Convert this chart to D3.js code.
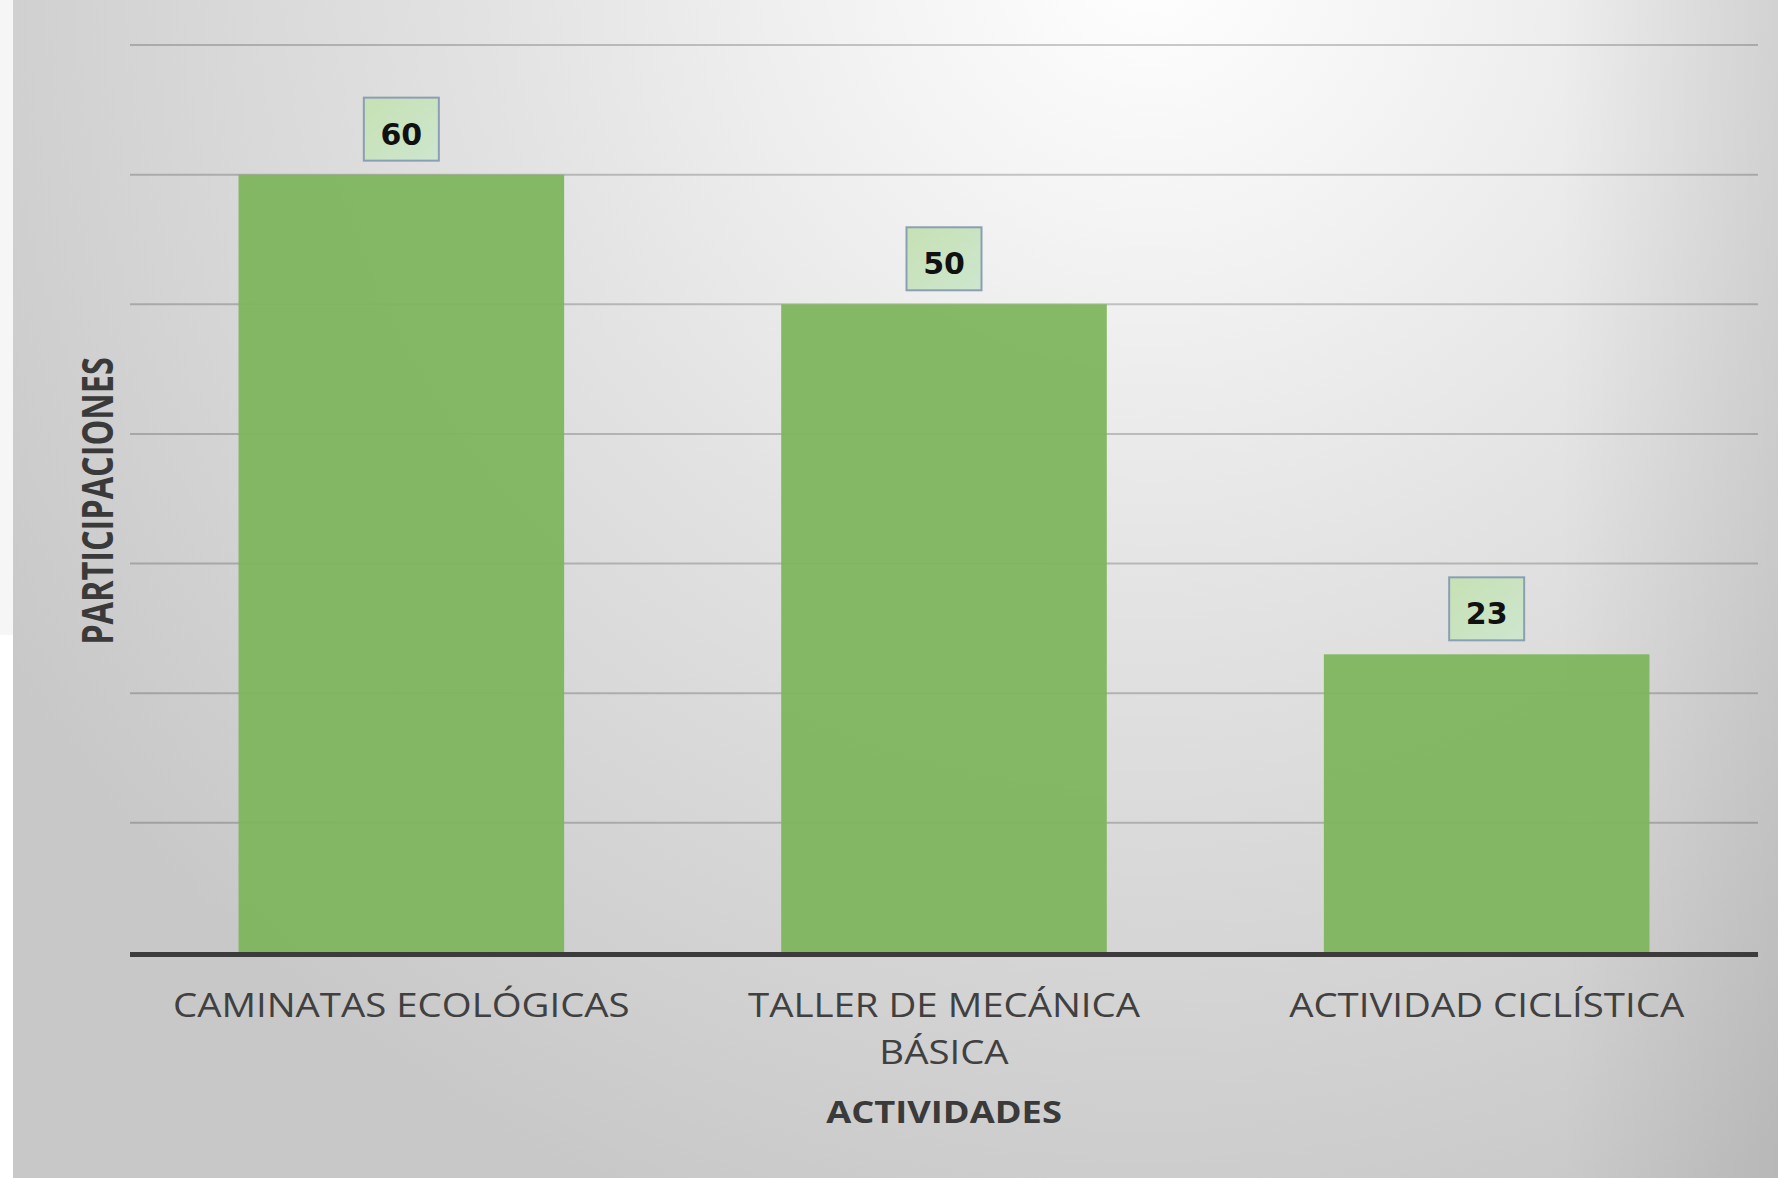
<!DOCTYPE html>
<html>
<head>
<meta charset="utf-8">
<script src="https://cdn.jsdelivr.net/npm/d3@7/dist/d3.min.js"></script>
<style>
  html, body { margin: 0; padding: 0; background: #ffffff; }
  svg { display: block; }
</style>
</head>
<body>
<svg id="chart" width="1778" height="1178"></svg>
<script>
// Activities and their participation counts
const categories = ["CAMINATAS ECOLÓGICAS", "TALLER DE MECÁNICA BÁSICA", "ACTIVIDAD CICLÍSTICA"];
const values = [60, 50, 23];
const yTicks = [10, 20, 30, 40, 50, 60, 70];
const xTitle = "ACTIVIDADES";
const yTitle = "PARTICIPACIONES";

const W = 1778, H = 1178;
const margin = { left: 130, right: 20, top: 45, bottom: 225 };
const svg = d3.select("#chart");
const defs = svg.append("defs");

// Soft grey backdrop, brightest near the top right
const bg = defs.append("radialGradient")
  .attr("id", "bgGrad").attr("gradientUnits", "userSpaceOnUse")
  .attr("cx", 1150).attr("cy", -50).attr("r", 1350);
[[0, "#ffffff"], [0.2, "#f4f4f4"], [0.5, "#e2e2e2"], [1, "#c8c8c8"]]
  .forEach(([o, c]) => bg.append("stop").attr("offset", o).attr("stop-color", c));

const edge = defs.append("linearGradient").attr("id", "edgeGrad")
  .attr("gradientUnits", "userSpaceOnUse").attr("x1", 1560).attr("x2", 1778).attr("y1", 0).attr("y2", 0);
edge.append("stop").attr("offset", 0).attr("stop-color", "#000").attr("stop-opacity", 0);
edge.append("stop").attr("offset", 1).attr("stop-color", "#000").attr("stop-opacity", 0.08);

const boxGrad = defs.append("linearGradient").attr("id", "boxGrad")
  .attr("x1", 0).attr("y1", 0).attr("x2", 1).attr("y2", 1);
boxGrad.append("stop").attr("offset", 0).attr("stop-color", "#c6e1b3");
boxGrad.append("stop").attr("offset", 1).attr("stop-color", "#cde6cf");

svg.append("rect").attr("x", 0).attr("y", 0).attr("width", 13).attr("height", 635).attr("fill", "#f6f6f6");
svg.append("rect").attr("x", 13).attr("y", 0).attr("width", W - 13).attr("height", H).attr("fill", "url(#bgGrad)");
svg.append("rect").attr("x", 13).attr("y", 0).attr("width", W - 13).attr("height", H).attr("fill", "url(#edgeGrad)");

const x = d3.scaleBand()
  .domain(categories)
  .range([margin.left, W - margin.right])
  .paddingInner(0.4).paddingOuter(0.2);

const y = d3.scaleLinear()
  .domain([0, 70])
  .range([952.5, margin.top]);

// Horizontal gridlines
svg.append("g")
  .selectAll("line").data(yTicks).join("line")
  .attr("x1", margin.left).attr("x2", W - margin.right)
  .attr("y1", d => y(d)).attr("y2", d => y(d))
  .attr("stroke", "rgba(0,0,0,0.2)").attr("stroke-width", 2);

// Bars
svg.append("g")
  .selectAll("rect").data(categories).join("rect")
  .attr("x", d => x(d))
  .attr("y", (d, i) => y(values[i]))
  .attr("width", x.bandwidth())
  .attr("height", (d, i) => y(0) - y(values[i]))
  .attr("fill", "#80b55e")
  .attr("fill-opacity", 0.95);

// Category axis line
svg.append("line")
  .attr("x1", margin.left).attr("x2", W - margin.right)
  .attr("y1", y(0) + 2).attr("y2", y(0) + 2)
  .attr("stroke", "#3c3c3c").attr("stroke-width", 5);

// Value labels in boxes above the bars
const boxW = 75, boxH = 63, gap = 14;
const lbl = svg.append("g").selectAll("g").data(categories).join("g")
  .attr("transform", (d, i) => `translate(${x(d) + x.bandwidth() / 2},${y(values[i]) - gap - boxH})`);
lbl.append("rect")
  .attr("x", -boxW / 2).attr("y", 0).attr("width", boxW).attr("height", boxH)
  .attr("fill", "url(#boxGrad)").attr("stroke", "#8a9fb4").attr("stroke-width", 2);
lbl.append("text")
  .attr("x", 0).attr("y", 47)
  .attr("text-anchor", "middle")
  .attr("font-family", "'DejaVu Sans', Verdana, sans-serif")
  .attr("font-weight", "bold").attr("font-size", 30)
  .attr("fill", "#111")
  .text((d, i) => values[i]);

// Category labels, wrapped to the band
const stretch = 1.2;
const catFont = 32;
const measure = svg.append("text").attr("font-family", "'Open Sans', sans-serif").attr("font-size", catFont).attr("opacity", 0);
function wrap(label, maxW) {
  const words = label.split(" ");
  const lines = [];
  let cur = [];
  words.forEach(w => {
    const test = cur.concat(w).join(" ");
    measure.text(test);
    if (cur.length && measure.node().getComputedTextLength() * stretch > maxW) {
      lines.push(cur.join(" "));
      cur = [w];
    } else cur.push(w);
  });
  if (cur.length) lines.push(cur.join(" "));
  return lines;
}
const maxW = x.step() * 0.9;
categories.forEach(c => {
  const lines = wrap(c, maxW);
  lines.forEach((ln, k) => {
    svg.append("text")
      .attr("transform", `translate(${x(c) + x.bandwidth() / 2},${1017 + k * 47}) scale(${stretch},1)`)
      .attr("text-anchor", "middle")
      .attr("font-family", "'Open Sans', sans-serif")
      .attr("font-size", catFont)
      .attr("fill", "#404040")
      .text(ln);
  });
});
measure.remove();

// Axis titles
svg.append("text")
  .attr("transform", `translate(${(margin.left + W - margin.right) / 2},1123) scale(1.23,1)`)
  .attr("text-anchor", "middle")
  .attr("font-family", "'Open Sans', sans-serif")
  .attr("font-weight", "bold").attr("font-size", 29.5)
  .attr("fill", "#3a3a3a")
  .text(xTitle);

svg.append("text")
  .attr("transform", "translate(113,501) rotate(-90) scale(1.1,1.43)")
  .attr("text-anchor", "middle")
  .attr("font-family", "'Open Sans', sans-serif")
  .attr("font-weight", "bold").attr("font-size", 29.5)
  .attr("fill", "#3a3a3a")
  .text(yTitle);
</script>
</body>
</html>
